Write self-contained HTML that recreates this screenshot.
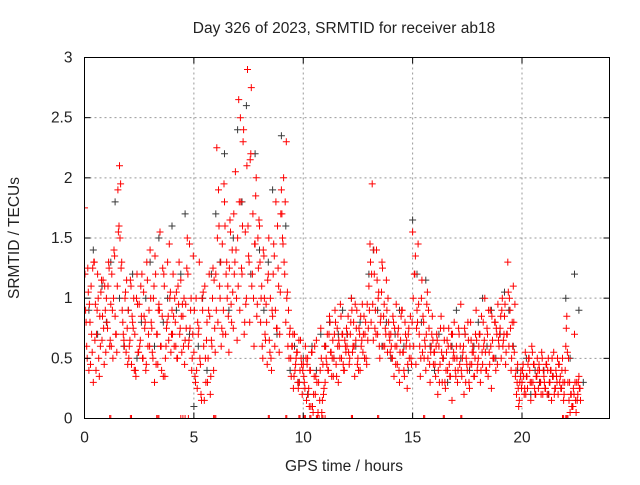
<!DOCTYPE html>
<html><head><meta charset="utf-8"><style>
body{margin:0;background:#fff;}
svg text{font-family:"Liberation Sans","DejaVu Sans",sans-serif;font-size:15.5px;fill:#222;}
</style></head><body>
<svg id="chart" width="640" height="480" viewBox="0 0 640 480" xmlns="http://www.w3.org/2000/svg">
<defs><clipPath id="clip"><rect x="84.5" y="57.5" width="525" height="361"/></clipPath></defs>
<text x="344" y="33" text-anchor="middle">Day 326 of 2023, SRMTID for receiver ab18</text>
<text transform="translate(19,238) rotate(-90)" text-anchor="middle">SRMTID / TECUs</text>
<text x="344" y="471" text-anchor="middle">GPS time / hours</text>
<g id="grid"></g>
<g id="marks" clip-path="url(#clip)"></g>
<rect x="84.5" y="57.5" width="525" height="361" fill="none" stroke="#000" stroke-width="1"/>
<g id="axes"></g>
</svg>
<script>
const xTicks=[0,5,10,15,20];
const yTicks=[0,0.5,1,1.5,2,2.5,3];
const yTickLabels=["0","0.5","1","1.5","2","2.5","3"];
const redStep=0.05;
const redA=[1.75,0.9,0.6,1.25,0.4,0.8,1.1,0.55,0.3,1.3,0.95,0.7,1.2,0.5,0.85,1.05,0.65,1.15,0.45,0.9,
1.0,0.75,1.3,0.6,0.95,1.2,0.5,1.4,0.85,0.7,1.1,1.55,2.1,1.95,1.3,0.8,0.65,1.0,0.55,0.75,
0.9,0.6,1.15,0.45,0.8,1.0,0.7,0.35,1.2,0.55,0.95,0.65,0.85,0.5,1.05,0.75,0.4,1.3,0.6,0.9,
1.4,0.8,0.55,1.0,0.3,1.2,0.7,0.45,0.95,1.55,0.6,0.85,0.35,1.1,0.5,0.75,1.3,0.65,1.0,0.55,
0.9,1.2,0.6,0.8,1.05,0.5,0.95,0.7,1.15,0.55,0.85,1.0,0.65,0.75,1.5,0.6,1.45,0.9,0.4,0.7,
0.55,0.35,1.0,0.25,0.7,1.3,0.45,0.15,0.9,0.6,1.1,0.3,0.8,0.5,1.2,0.2,0.65,1.0,0.4,0.75,
1.2,2.25,0.8,1.6,1.0,0.6,1.45,0.9,1.8,0.7,1.3,1.1,0.55,1.65,0.95,1.4,0.75,1.2,2.05,1.0,
1.5,2.65,0.9,1.8,1.2,2.3,0.7,1.55,1.0,2.9,1.35,0.8,2.2,1.1,1.7,0.6,1.45,2.0,0.95,1.25,
1.6,0.8,1.1,0.5,1.35,0.7,0.95,0.45,1.2,0.65,1.0,0.4,0.85,1.45,0.6,1.8,0.75,1.25,0.55,1.05,
1.9,1.5,2.0,1.2,0.8,1.0,0.6,0.5,0.75,0.35,0.6,0.25,0.7,0.45,0.55,0.3,0.65,0.4,0.5,0.2,
0.45,0.3,0.6,0.15,0.5,0.25,0.4,0.1,0.55,0.05,0.35,0.2,0.65,0.0,0.3,0.15,0.75,0.05,0.45,0.25,
0.3,0.5,0.7,0.4,0.85,0.55,0.35,0.65,0.5,0.9,0.45,0.75,0.3,0.6,0.95,0.5,0.7,0.4,0.65,0.55,
0.6,0.85,0.45,0.7,1.0,0.55,0.8,0.35,0.65,0.9,0.5,0.75,0.4,0.6,0.95,0.7,0.5,0.8,0.45,0.65,
1.1,1.45,0.8,1.95,0.65,1.2,0.9,1.4,0.7,1.05,0.5,0.85,1.3,0.6,0.95,0.75,1.15,0.55,0.8,0.65,
0.7,0.5,0.85,0.35,0.6,0.95,0.45,0.75,0.3,0.65,0.9,0.55,0.4,0.8,0.6,0.25,0.7,0.5,0.85,0.45,
1.55,0.6,1.2,0.45,0.9,1.45,0.7,0.35,1.0,0.55,0.8,0.65,0.4,0.95,0.5,0.75,0.3,0.6,0.85,0.45,
0.55,0.35,0.7,0.2,0.6,0.45,0.85,0.3,0.5,0.65,0.25,0.55,0.4,0.75,0.35,0.6,0.15,0.5,0.8,0.4,
0.6,0.3,0.75,0.45,0.95,0.35,0.55,0.2,0.7,0.5,0.4,0.65,0.25,0.8,0.45,0.6,0.35,0.5,0.9,0.4,
0.5,0.7,0.3,0.85,0.45,0.6,1.0,0.4,0.75,0.35,0.55,0.9,0.25,0.65,0.5,0.8,0.4,0.7,0.95,0.6,
0.75,0.5,1.0,0.65,0.85,0.45,0.7,1.3,0.6,0.9,0.4,0.8,1.1,0.55,0.35,0.2,0.45,0.1,0.3,0.4,
0.3,0.45,0.2,0.55,0.35,0.25,0.5,0.4,0.15,0.6,0.3,0.45,0.2,0.35,0.5,0.25,0.4,0.3,0.55,0.2,
0.35,0.25,0.45,0.2,0.5,0.3,0.4,0.15,0.35,0.55,0.25,0.4,0.3,0.2,0.45,0.35,0.25,0.5,0.15,0.3,
0.6,0.85,0.3,0.15,0.05,0.2,0.1,0.25,0.7,0.15,0.3,0.2,0.35,0.25];
const redBStart=0.025;
const redBStep=0.1;
const redB=[1.2,0.5,0.95,0.7,1.3,0.4,1.0,0.6,0.85,1.1,
0.8,1.25,0.6,1.0,0.7,1.9,1.5,0.9,0.6,1.15,
0.5,1.1,0.75,0.4,0.95,0.6,1.2,0.85,0.45,0.7,
1.0,0.5,1.35,0.7,0.9,0.4,1.2,0.6,0.85,1.05,
0.7,1.0,0.5,1.3,0.85,0.6,0.95,1.2,0.75,0.5,
0.9,0.4,0.75,0.2,1.05,0.5,0.3,0.85,0.6,1.15,
0.9,1.9,1.3,0.7,1.6,1.0,1.25,0.8,1.7,1.4,
1.1,2.5,1.6,0.8,2.1,1.3,2.75,1.0,1.85,1.5,
1.3,0.6,1.0,0.8,1.5,0.5,1.2,0.9,1.6,0.7,
1.7,1.3,2.3,0.9,0.5,0.7,0.4,0.55,0.3,0.45,
0.35,0.5,0.2,0.4,0.1,0.6,0.3,0.0,0.5,0.2,
0.6,0.4,0.8,0.5,0.7,0.35,0.65,0.85,0.45,0.6,
0.7,0.5,0.9,0.6,0.75,0.4,0.85,0.55,0.7,0.95,
0.9,1.2,1.4,0.7,1.0,0.8,1.25,0.6,0.9,0.7,
0.6,0.8,0.45,0.7,0.55,0.9,0.35,0.65,0.75,0.5,
1.0,1.35,0.8,0.6,1.15,0.5,0.7,0.9,0.55,0.65,
0.45,0.65,0.3,0.55,0.75,0.4,0.6,0.35,0.7,0.5,
0.5,0.7,0.4,0.6,0.3,0.8,0.45,0.55,0.35,0.65,
0.6,0.4,0.8,0.55,0.7,0.45,0.85,0.5,0.75,0.65,
0.85,0.6,0.95,0.7,1.0,0.5,0.8,0.4,0.25,0.35,
0.4,0.25,0.35,0.5,0.3,0.45,0.2,0.4,0.3,0.5,
0.3,0.45,0.2,0.4,0.35,0.25,0.5,0.3,0.4,0.2,
0.75,0.5,0.2,0.1,0.3,0.15,0.25];
const redCStart=0.075;
const redCStep=0.1;
const redC=[0.8,1.05,0.45,1.25,0.65,0.9,0.35,1.15,0.75,0.55,
1.1,0.65,0.9,1.35,0.55,1.6,1.25,0.7,1.05,0.45,
0.65,0.85,0.4,1.0,0.55,1.1,0.5,0.8,1.15,0.6,
0.75,1.1,0.45,0.9,0.6,1.25,0.35,0.8,1.45,0.7,
0.85,0.6,1.1,0.75,0.95,0.45,1.25,0.65,1.0,1.35,
0.3,0.8,0.5,1.0,0.15,0.65,0.9,0.35,1.25,0.55,
1.5,1.1,0.75,1.95,1.2,0.85,1.55,1.05,1.3,0.65,
1.8,1.25,2.4,0.95,1.6,2.15,1.2,1.45,0.85,1.65,
1.0,1.4,0.65,1.15,0.55,0.9,1.35,0.75,1.1,1.7,
1.45,1.8,1.05,0.7,0.6,0.35,0.5,0.25,0.65,0.4,
0.25,0.45,0.1,0.55,0.2,0.35,0.05,0.4,0.15,0.6,
0.45,0.7,0.55,0.35,0.8,0.6,0.5,0.7,0.4,0.75,
0.55,0.8,0.6,0.95,0.45,0.7,0.65,0.85,0.5,0.75,
1.3,0.95,0.75,1.15,0.6,1.05,0.85,0.7,1.0,0.55,
0.5,0.75,0.6,0.4,0.85,0.55,0.7,0.45,0.6,0.8,
1.2,0.75,0.95,0.5,0.85,0.6,1.05,0.45,0.7,0.55,
0.6,0.4,0.75,0.5,0.3,0.65,0.45,0.7,0.55,0.35,
0.4,0.6,0.5,0.75,0.45,0.3,0.65,0.55,0.7,0.45,
0.7,0.55,0.65,0.4,0.9,0.6,0.5,0.8,0.45,0.7,
0.9,0.7,0.55,1.05,0.75,0.6,0.95,0.3,0.15,0.25,
0.35,0.2,0.45,0.3,0.55,0.25,0.35,0.45,0.2,0.4,
0.25,0.4,0.3,0.5,0.2,0.35,0.45,0.25,0.3,0.4,
0.55,0.3,0.1,0.2,0.05,0.3,0.15];
const blackStep=0.2;
const blackVals=[1.2,0.9,1.4,0.7,1.1,0.8,1.3,1.8,1.0,0.6,0.9,1.2,0.5,0.8,1.0,1.3,0.6,1.5,0.8,1.0,
1.6,0.9,1.2,1.7,0.7,0.1,0.6,1.0,0.4,1.2,1.7,1.3,2.2,0.9,1.5,2.4,1.8,2.6,1.2,2.2,
1.4,0.9,1.3,1.9,0.7,2.35,1.6,0.4,0.6,0.3,0.5,0.2,0.6,0.4,0.7,0.6,0.8,0.5,0.7,0.9,
0.7,1.0,0.6,0.8,0.5,1.2,1.4,0.9,0.6,0.8,0.5,0.7,0.9,0.6,0.4,1.65,1.2,0.8,1.15,0.6,
0.4,0.7,0.5,0.3,0.6,0.9,0.5,0.7,0.4,0.6,0.8,1.0,0.6,0.9,0.5,0.7,1.05,0.9,0.6,0.4,
0.3,0.5,0.2,0.4,0.3,0.4,0.2,0.35,0.3,0.25,1.0,0.5,1.2,0.9,0.3];
const zeroTimes=[1.15,1.2,2.1,2.15,3.3,3.35,3.4,4.4,4.5,4.6,4.75,5.9,5.95,6.0,8.4,8.45,9.2,9.25,9.8,9.85,10.0,10.05,10.1,10.3,10.35,10.6,10.65,10.85,10.9,11.0,12.2,12.25,13.4,13.45,15.5,15.55,16.4,16.45,17.2,17.25,21.85,21.9,22.0,22.05,22.1];

const NS="http://www.w3.org/2000/svg";
const X0=84.5,X1=609.5,Y0=418.5,Y1=57.5,XMAX=24,YMAX=3;
function xs(t){return X0+(X1-X0)*t/XMAX;}
function ys(v){return Y0-(Y0-Y1)*v/YMAX;}
function mk(tag,attrs,parent){const e=document.createElementNS(NS,tag);for(const k in attrs)e.setAttribute(k,attrs[k]);parent.appendChild(e);return e;}
const grid=document.getElementById('grid'),axes=document.getElementById('axes'),marks=document.getElementById('marks');
xTicks.forEach((t,i)=>{
  const x=xs(t);
  if(t>0){const g=mk('line',{x1:x,x2:x,y1:Y1,y2:Y0,stroke:'#999','stroke-dasharray':'2,3'},grid);
  
  }
  mk('line',{x1:x,x2:x,y1:Y0,y2:Y0-6,stroke:'#000'},axes);
  mk('line',{x1:x,x2:x,y1:Y1,y2:Y1+6,stroke:'#000'},axes);
  const tx=mk('text',{x:x,y:Y0+24,'text-anchor':'middle'},axes);tx.textContent=String(t);
  
  
});
yTicks.forEach((v,i)=>{
  const y=ys(v);
  if(v>0&&v<YMAX){const g=mk('line',{x1:X0,x2:X1,y1:y,y2:y,stroke:'#999','stroke-dasharray':'2,3'},grid);
  
  }
  mk('line',{x1:X0,x2:X0+6,y1:y,y2:y,stroke:'#000'},axes);
  mk('line',{x1:X1,x2:X1-6,y1:y,y2:y,stroke:'#000'},axes);
  const tx=mk('text',{x:X0-12,y:y+5,'text-anchor':'end'},axes);tx.textContent=yTickLabels[i];
  
  
});
function plus(t,v,col,name){
  const x=xs(t),y=ys(v),s=3.5;
  const p=mk('path',{d:`M${(x-s).toFixed(1)} ${y.toFixed(1)}h${2*s}M${x.toFixed(1)} ${(y-s).toFixed(1)}v${2*s}`,stroke:col,'stroke-width':1,fill:'none'},marks);
  
  
}
blackVals.forEach((v,i)=>plus(i*blackStep,v,'#3a3a3a','black-point'));
redA.forEach((v,i)=>plus(i*redStep,v,'#ff0000','red-point'));
redB.forEach((v,i)=>plus(redBStart+i*redBStep,v,'#ff0000','red-point'));
redC.forEach((v,i)=>plus(redCStart+i*redCStep,v,'#ff0000','red-point'));
zeroTimes.forEach(t=>plus(t,0,'#ff0000','zero-point'));
</script>
</body></html>
